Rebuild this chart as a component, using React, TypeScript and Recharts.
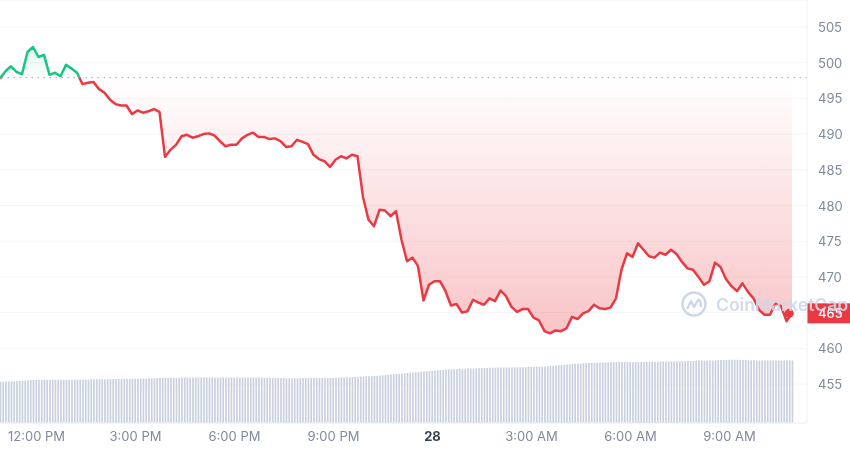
import {
  Area,
  Bar,
  CartesianGrid,
  ComposedChart,
  ReferenceDot,
  ReferenceLine,
  XAxis,
  YAxis,
} from 'recharts';

const RED = '#ea3943';
const GREEN = '#16c784';
const AXIS_TEXT = '#808a9d';

const startMinute = 652.7;
const endMinute = 2120;
const openPrice = 497.9;
const lastPrice = 464.9;

// one price every 10 minutes
const prices = [
  497.8, 498.8, 499.5, 498.7, 498.4, 501.5, 502.2, 500.8, 501.1, 498.3, 498.6, 498.1,
  499.7, 499.2, 498.6, 497.0, 497.2, 497.3, 496.3, 495.8, 494.8, 494.2, 494.0, 494.0,
  492.8, 493.3, 493.0, 493.2, 493.5, 493.1, 486.8, 487.8, 488.5, 489.7, 489.9, 489.5,
  489.7, 490.0, 490.1, 489.8, 489.0, 488.3, 488.5, 488.5, 489.4, 489.9, 490.2, 489.6,
  489.6, 489.3, 489.4, 489.0, 488.2, 488.3, 489.2, 488.9, 488.6, 487.1, 486.5, 486.2,
  485.4, 486.4, 486.9, 486.6, 487.1, 486.9, 481.2, 478.0, 477.1, 479.4, 479.3, 478.5,
  479.2, 475.2, 472.2, 472.7, 471.5, 466.7, 468.9, 469.4, 469.4, 468.0, 466.0, 466.2,
  465.0, 465.2, 466.8, 466.4, 466.1, 467.0, 466.6, 468.1, 467.3, 465.8, 465.1, 465.5,
  465.5, 464.3, 463.9, 462.4, 462.1, 462.5, 462.4, 462.8, 464.4, 464.1, 464.9, 465.2,
  466.1, 465.6, 465.5, 465.7, 467.0, 471.0, 473.3, 472.8, 474.7, 473.8, 472.9, 472.7,
  473.4, 473.1, 473.8, 473.2, 472.1, 471.2, 471.0, 470.0, 468.9, 469.4, 472.0, 471.4,
  469.7, 468.7, 468.0, 469.1, 467.9, 467.0, 465.4, 464.7, 464.7, 466.3, 465.9, 463.8,
  464.9,
];

// one volume bar every 5 minutes
const volumes = [
  4.13, 4.13, 4.15, 4.15, 4.18, 4.18, 4.2, 4.2, 4.23, 4.25, 4.28, 4.3,
  4.3, 4.3, 4.32, 4.32, 4.32, 4.33, 4.33, 4.33, 4.33, 4.33, 4.33, 4.33,
  4.33, 4.33, 4.33, 4.35, 4.35, 4.35, 4.35, 4.35, 4.35, 4.38, 4.38, 4.38,
  4.38, 4.38, 4.38, 4.38, 4.4, 4.4, 4.4, 4.42, 4.42, 4.42, 4.42, 4.42,
  4.42, 4.42, 4.42, 4.45, 4.45, 4.45, 4.48, 4.48, 4.48, 4.5, 4.5, 4.52,
  4.52, 4.52, 4.52, 4.52, 4.52, 4.52, 4.55, 4.55, 4.55, 4.55, 4.55, 4.55,
  4.55, 4.55, 4.55, 4.55, 4.55, 4.55, 4.55, 4.55, 4.55, 4.55, 4.55, 4.55,
  4.55, 4.55, 4.55, 4.55, 4.55, 4.55, 4.55, 4.55, 4.55, 4.55, 4.55, 4.55,
  4.52, 4.52, 4.52, 4.5, 4.5, 4.5, 4.5, 4.5, 4.48, 4.48, 4.48, 4.48,
  4.48, 4.48, 4.5, 4.5, 4.5, 4.5, 4.5, 4.5, 4.5, 4.5, 4.5, 4.5,
  4.5, 4.5, 4.52, 4.52, 4.55, 4.55, 4.58, 4.58, 4.6, 4.62, 4.62, 4.65,
  4.65, 4.68, 4.68, 4.7, 4.7, 4.72, 4.75, 4.78, 4.8, 4.82, 4.85, 4.88,
  4.9, 4.92, 4.95, 4.98, 5.0, 5.02, 5.05, 5.08, 5.1, 5.12, 5.15, 5.18,
  5.2, 5.22, 5.25, 5.28, 5.3, 5.32, 5.35, 5.38, 5.38, 5.4, 5.4, 5.42,
  5.42, 5.42, 5.45, 5.45, 5.45, 5.48, 5.48, 5.5, 5.5, 5.5, 5.52, 5.52,
  5.52, 5.55, 5.55, 5.55, 5.55, 5.55, 5.55, 5.58, 5.58, 5.58, 5.58, 5.58,
  5.6, 5.6, 5.6, 5.62, 5.62, 5.65, 5.65, 5.68, 5.7, 5.72, 5.75, 5.78,
  5.8, 5.82, 5.85, 5.88, 5.9, 5.92, 5.95, 5.95, 5.98, 5.98, 6.0, 6.0,
  6.02, 6.02, 6.05, 6.05, 6.05, 6.08, 6.08, 6.08, 6.08, 6.1, 6.1, 6.1,
  6.1, 6.1, 6.1, 6.1, 6.1, 6.1, 6.12, 6.12, 6.12, 6.12, 6.12, 6.12,
  6.15, 6.15, 6.15, 6.15, 6.15, 6.15, 6.18, 6.18, 6.18, 6.18, 6.2, 6.2,
  6.2, 6.22, 6.22, 6.22, 6.22, 6.25, 6.25, 6.25, 6.28, 6.28, 6.3, 6.3,
  6.3, 6.32, 6.32, 6.32, 6.32, 6.3, 6.3, 6.3, 6.28, 6.28, 6.28, 6.28,
  6.25, 6.25, 6.25, 6.25, 6.25, 6.25, 6.25, 6.25, 6.25, 6.25, 6.25, 6.25,
  6.25,
];

const priceTicks = [455, 460, 465, 470, 475, 480, 485, 490, 495, 500, 505];
const timeTicks = [720, 900, 1080, 1260, 1440, 1620, 1800, 1980];
const timeLabels = ['12:00 PM', '3:00 PM', '6:00 PM', '9:00 PM', '28', '3:00 AM', '6:00 AM', '9:00 AM'];

const rows = volumes.map((volume, i) => ({
  minute: startMinute + i * 5,
  volume,
  price: i % 2 === 0 ? prices[i / 2] : null,
}));

function TimeTick({ x, y, payload }: any) {
  const label = timeLabels[timeTicks.indexOf(payload.value)];
  const isDay = label === '28';
  return (
    <text
      x={x - 0.5}
      y={y + 4}
      dy={9}
      textAnchor="middle"
      fontSize={13}
      fontWeight={isDay ? 700 : 400}
      fill={isDay ? '#3a4252' : AXIS_TEXT}
    >
      {label}
    </text>
  );
}

// the 465 label is carried by the price tag instead
function PriceTick({ x, y, payload }: any) {
  if (payload.value === 465) return <g />;
  return (
    <text x={x} y={y + 5} fontSize={13} fill={AXIS_TEXT}>
      {payload.value}
    </text>
  );
}

function PriceTag({ viewBox }: any) {
  const right = viewBox.x + viewBox.width;
  return (
    <g>
      <rect x={right} y={viewBox.y - 10} width={43} height={20} fill={RED} />
      <text x={right + 11} y={viewBox.y + 5} fontSize={13} fontWeight={500} fill="#fff">
        465
      </text>
    </g>
  );
}

function Watermark() {
  return (
    <div style={{ position: 'absolute', left: 680, top: 290, width: 170, height: 28, display: 'flex', alignItems: 'center' }}>
      <svg width={28} height={28} viewBox="0 0 28 28">
        <circle cx={14} cy={14} r={11.5} fill="none" stroke="#cdd7e6" strokeWidth={2.4} />
        <path
          d="M7 19 L11 11 L14 17 L18 10 Q20 9 20.5 13 L21 17"
          fill="none"
          stroke="#cdd7e6"
          strokeWidth={2.4}
          strokeLinejoin="round"
        />
      </svg>
      <span style={{ marginLeft: 8, fontSize: 17.5, fontWeight: 600, color: 'rgba(205,215,230,0.9)', whiteSpace: 'nowrap' }}>
        CoinMarketCap
      </span>
    </div>
  );
}

export default function App() {
  return (
    <div
      style={{
        position: 'absolute',
        left: 0,
        top: 0,
        width: 850,
        height: 453,
        overflow: 'hidden',
        fontFamily: 'Inter, sans-serif',
        filter: 'blur(0.45px)',
      }}
    >
      <ComposedChart width={850} height={453} data={rows} margin={{ top: 0, right: 0, bottom: 0, left: 0 }}>
        <defs>
          <linearGradient id="priceFill" gradientUnits="userSpaceOnUse" x1="0" y1="40" x2="0" y2="335">
            <stop offset="0" stopColor={GREEN} stopOpacity={0.18} />
            <stop offset="0.129" stopColor={GREEN} stopOpacity={0} />
            <stop offset="0.129" stopColor={RED} stopOpacity={0} />
            <stop offset="1" stopColor={RED} stopOpacity={0.3} />
          </linearGradient>
          <linearGradient id="priceStroke" gradientUnits="userSpaceOnUse" x1="0" y1="40" x2="0" y2="335">
            <stop offset="0.129" stopColor={GREEN} />
            <stop offset="0.129" stopColor={RED} />
          </linearGradient>
        </defs>
        <CartesianGrid yAxisId="price" vertical={false} stroke="#f5f6f8" />
        <XAxis
          dataKey="minute"
          type="number"
          domain={[startMinute, endMinute]}
          allowDataOverflow
          ticks={timeTicks}
          height={30}
          stroke="#eff2f5"
          tickSize={3}
          tick={<TimeTick />}
          interval={0}
        />
        <YAxis
          yAxisId="price"
          orientation="right"
          width={43}
          domain={[449.54, 508.78]}
          allowDataOverflow
          ticks={priceTicks}
          interval={0}
          stroke="#eff2f5"
          tickLine={false}
          tickSize={0}
          tickMargin={11}
          tick={<PriceTick />}
        />
        <YAxis yAxisId="volume" hide domain={[0, 42.3]} />
        <Bar yAxisId="volume" dataKey="volume" barSize={1.7} fill="#c9d1e1" isAnimationActive={false} />
        <ReferenceLine yAxisId="price" y={openPrice} stroke="#98a2b6" strokeDasharray="1.5 4.5" />
        <Area
          yAxisId="price"
          type="linear"
          dataKey="price"
          baseValue={openPrice}
          connectNulls
          stroke="url(#priceStroke)"
          strokeWidth={2.5}
          strokeLinejoin="round"
          fill="url(#priceFill)"
          fillOpacity={1}
          dot={false}
          activeDot={false}
          isAnimationActive={false}
        />
        <ReferenceLine yAxisId="price" y={lastPrice} stroke="none" label={<PriceTag />} />
        <ReferenceDot yAxisId="price" x={startMinute + 1435} y={lastPrice} r={4.5} fill={RED} stroke="none" />
      </ComposedChart>
      <Watermark />
    </div>
  );
}
